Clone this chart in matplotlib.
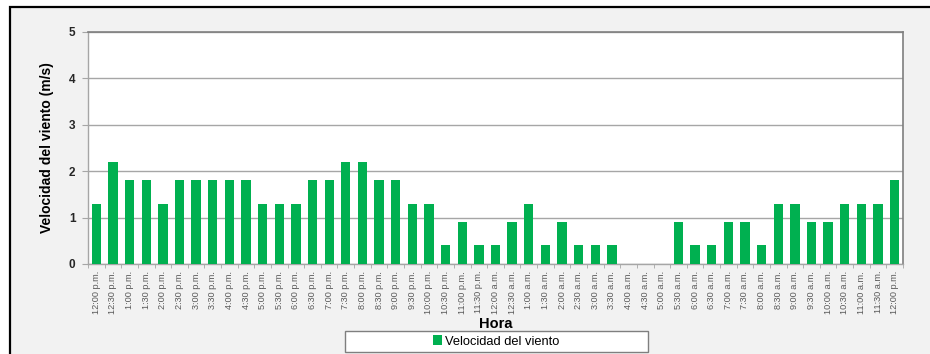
import numpy as np
import matplotlib.pyplot as plt
from matplotlib.patches import Rectangle

plt.rcParams["font.family"] = ["Liberation Sans", "DejaVu Sans"]

horas = ["12:00 p.m.", "12:30 p.m.", "1:00 p.m.", "1:30 p.m.", "2:00 p.m.", "2:30 p.m.",
         "3:00 p.m.", "3:30 p.m.", "4:00 p.m.", "4:30 p.m.", "5:00 p.m.", "5:30 p.m.",
         "6:00 p.m.", "6:30 p.m.", "7:00 p.m.", "7:30 p.m.", "8:00 p.m.", "8:30 p.m.",
         "9:00 p.m.", "9:30 p.m.", "10:00 p.m.", "10:30 p.m.", "11:00 p.m.", "11:30 p.m.",
         "12:00 a.m.", "12:30 a.m.", "1:00 a.m.", "1:30 a.m.", "2:00 a.m.", "2:30 a.m.",
         "3:00 a.m.", "3:30 a.m.", "4:00 a.m.", "4:30 a.m.", "5:00 a.m.", "5:30 a.m.",
         "6:00 a.m.", "6:30 a.m.", "7:00 a.m.", "7:30 a.m.", "8:00 a.m.", "8:30 a.m.",
         "9:00 a.m.", "9:30 a.m.", "10:00 a.m.", "10:30 a.m.", "11:00 a.m.", "11:30 a.m.",
         "12:00 p.m."]
velocidad = [1.3, 2.2, 1.8, 1.8, 1.3, 1.8, 1.8, 1.8, 1.8, 1.8, 1.3, 1.3,
             1.3, 1.8, 1.8, 2.2, 2.2, 1.8, 1.8, 1.3, 1.3, 0.4, 0.9, 0.4,
             0.4, 0.9, 1.3, 0.4, 0.9, 0.4, 0.4, 0.4, 0.0, 0.0, 0.0, 0.9,
             0.4, 0.4, 0.9, 0.9, 0.4, 1.3, 1.3, 0.9, 0.9, 1.3, 1.3, 1.3,
             1.8]

W, H = 930, 354
fig = plt.figure(figsize=(W / 100, H / 100), dpi=100)
fig.patch.set_facecolor("white")

# chart area frame (behind everything)
fig.patches.append(Rectangle((10 / W, -0.05), 1.0, (H - 7) / H + 0.05,
                             transform=fig.transFigure, facecolor="#f2f2f2",
                             edgecolor="black", lw=1.6, zorder=-10))
# legend box
fig.patches.append(Rectangle((345 / W, 1 - 352 / H), (648 - 345) / W, 21 / H,
                             transform=fig.transFigure, facecolor="white",
                             edgecolor="#7f7f7f", lw=1.0, zorder=-5))

ax = fig.add_axes([88 / W, 1 - 264 / H, (903 - 88) / W, (264 - 32) / H])
ax.set_facecolor("white")

x = np.arange(len(horas))
bars = ax.bar(x, velocidad, width=0.56, color="#00b050", zorder=3,
              label="Velocidad del viento")

ax.set_xlim(-0.5, len(horas) - 0.5)
ax.set_ylim(0, 5)
ax.set_yticks(range(6))
ax.yaxis.grid(True, color="#a6a6a6", lw=1.0, zorder=1)
ax.set_axisbelow(True)

for s in ["top", "right"]:
    ax.spines[s].set_color("#7f7f7f")
    ax.spines[s].set_linewidth(1.2)
for s in ["left", "bottom"]:
    ax.spines[s].set_color("#a6a6a6")
    ax.spines[s].set_linewidth(1.0)

ax.set_xticks(x)
ax.set_xticklabels(horas, rotation=90, fontsize=6.6, color="#595959")
ax.tick_params(axis="x", length=0, pad=5)
ax.set_xticks(np.arange(-0.5, len(horas)), minor=True)
ax.tick_params(axis="x", which="minor", length=3, color="#a6a6a6")
ax.tick_params(axis="y", length=4, color="#a6a6a6", pad=5)
for t in ax.get_yticklabels():
    t.set_fontsize(8.5)
    t.set_fontweight("bold")
    t.set_color("#262626")

ax.set_ylabel("Velocidad del viento (m/s)", fontsize=10, fontweight="bold",
              labelpad=11)
ax.set_xlabel("Hora", fontsize=10.5, fontweight="bold", labelpad=2)

leg = fig.legend(handles=[bars], loc="center",
                 bbox_to_anchor=(496 / W, 1 - 341.5 / H),
                 fontsize=9.3, frameon=False,
                 handlelength=0.7, handleheight=0.7, handletextpad=0.2,
                 borderpad=0, borderaxespad=0)

fig.savefig("out.png", dpi=100)
